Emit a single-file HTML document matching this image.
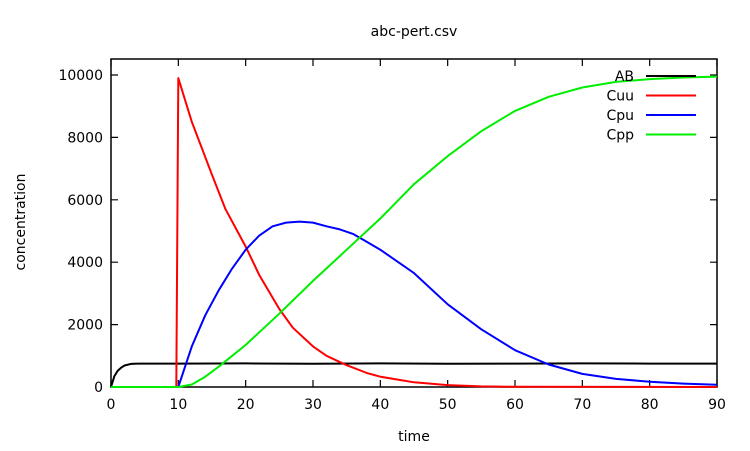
<!DOCTYPE html>
<html><head><meta charset="utf-8"><style>
body{margin:0;background:#fff}
svg{display:block;font-family:"DejaVu Sans","Liberation Sans",sans-serif;font-size:14px}
</style></head><body>
<svg id="chart" width="750" height="451">
<text x="414" y="36" text-anchor="middle">abc-pert.csv</text>
<text x="414" y="441" text-anchor="middle">time</text>
<text transform="translate(25,222) rotate(-90)" text-anchor="middle">concentration</text>
<g id="axes"></g><g id="series"></g><g id="legend"></g>
</svg>
<script>
const xTicks=[0,10,20,30,40,50,60,70,80,90];
const yTicks=[0,2000,4000,6000,8000,10000];
const seriesNames=["AB","Cuu","Cpu","Cpp"];
const seriesColors=["#000000","#ff0000","#0000ff","#00ee00"];
const abX=[0,0.5,1,1.5,2,3,4,10,20,30,40,50,60,70,80,90];
const abY=[0,350,520,620,690,740,750,750,755,745,755,745,750,755,750,750];
const cuuX=[0,9.7,10,12,15,17,20,22,25,27,30,32,35,38,40,45,50,55,60,90];
const cuuY=[0,0,9900,8500,6800,5700,4500,3600,2500,1900,1300,1000,700,450,330,150,60,20,5,0];
const cpuX=[0,10,12,14,16,18,20,22,24,26,28,30,32,34,36,38,40,45,50,55,60,65,70,75,80,85,90];
const cpuY=[0,0,1300,2300,3100,3800,4400,4850,5150,5270,5300,5270,5150,5050,4900,4650,4400,3650,2650,1850,1180,720,420,260,170,110,70];
const cppX=[0,10,12,14,16,18,20,25,30,35,40,45,50,55,60,65,70,75,80,85,90];
const cppY=[0,0,80,330,650,1000,1350,2350,3400,4400,5400,6500,7400,8200,8850,9300,9600,9780,9870,9920,9950];
const X0=111,X1=717,Y0=387,Y1=59;
const xs=v=>X0+(v-0)/90*(X1-X0);
const ys=v=>Y0-v/10000*(387-75);
const NS="http://www.w3.org/2000/svg";
function mk(t,a,p){const e=document.createElementNS(NS,t);for(const k in a)e.setAttribute(k,a[k]);p.appendChild(e);return e;}
const axes=document.getElementById('axes');
const fr=mk('rect',{x:X0,y:Y1,width:X1-X0,height:Y0-Y1,fill:'none',stroke:'#000','stroke-width':1.5},axes);


xTicks.forEach(v=>{
  const x=xs(v);
  const l=mk('path',{d:`M${x},${Y0}v-7M${x},${Y1}v7`,stroke:'#000','stroke-width':1.2},axes);
  
  
  const t=mk('text',{x:x,y:Y0+22,'text-anchor':'middle'},axes);t.textContent=v;
  
  
});
yTicks.forEach(v=>{
  const y=ys(v);
  const l=mk('path',{d:`M${X0},${y}h7M${X1},${y}h-7`,stroke:'#000','stroke-width':1.2},axes);
  
  
  const t=mk('text',{x:X0-8,y:y+5,'text-anchor':'end'},axes);t.textContent=v;
  
  
});
const sg=document.getElementById('series');
const data=[[abX,abY],[cuuX,cuuY],[cpuX,cpuY],[cppX,cppY]];
const lg=document.getElementById('legend');
data.forEach((d,i)=>{
  const pts=d[0].map((x,j)=>xs(x).toFixed(1)+','+ys(d[1][j]).toFixed(1)).join(' ');
  const p=mk('polyline',{points:pts,fill:'none',stroke:seriesColors[i],'stroke-width':2,'stroke-linejoin':'round'},sg);
  
  
  const ly=76+i*19.5;
  const t=mk('text',{x:634,y:ly+5,'text-anchor':'end'},lg);t.textContent=seriesNames[i];
  
  
  const s=mk('line',{x1:646,x2:696,y1:ly,y2:ly,stroke:seriesColors[i],'stroke-width':2},lg);
  
  
});
</script>
</body></html>
